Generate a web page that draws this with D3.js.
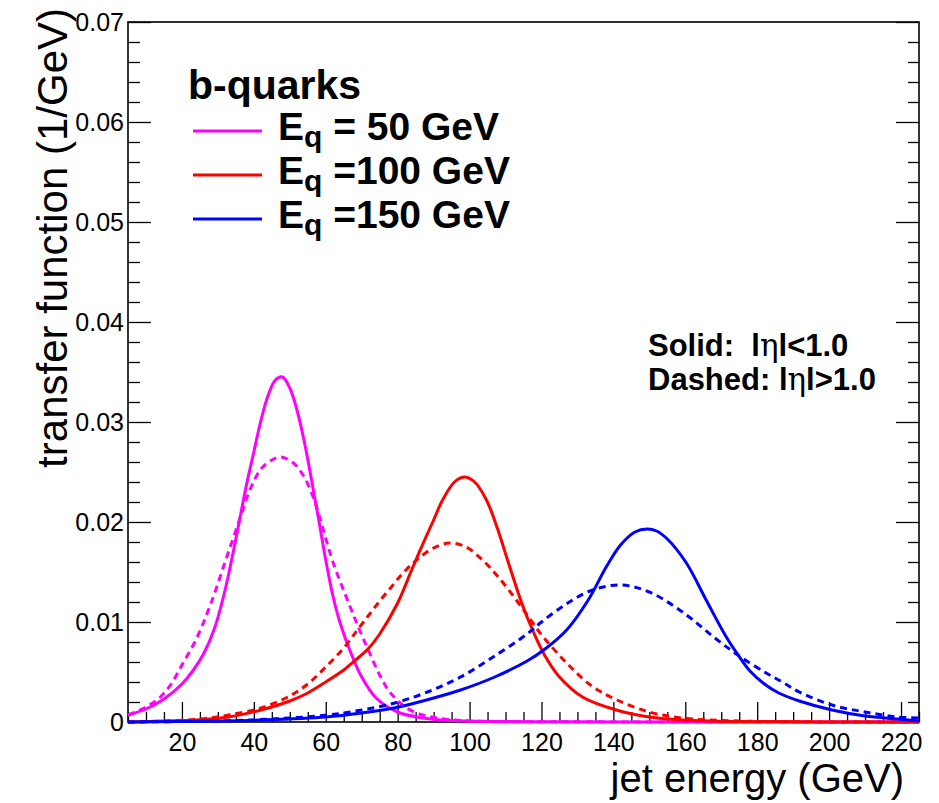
<!DOCTYPE html>
<html>
<head>
<meta charset="utf-8">
<script src="https://cdn.jsdelivr.net/npm/d3@7"></script>
<style>
  html, body { margin: 0; padding: 0; background: #fff; }
  svg { display: block; }
  text { font-family: "Liberation Sans", Arial, Helvetica, sans-serif; white-space: pre; }
</style>
</head>
<body>
<svg id="chart" width="939" height="803"></svg>
<script>
// ---------------- DATA ----------------
const xTickValues = [20, 40, 60, 80, 100, 120, 140, 160, 180, 200, 220];
const yTickValues = [0, 0.01, 0.02, 0.03, 0.04, 0.05, 0.06, 0.07];
const yTickLabels = ["0", "0.01", "0.02", "0.03", "0.04", "0.05", "0.06", "0.07"];

const legendTitle = "b-quarks";
const legendLabels = ["= 50 GeV", "=100 GeV", "=150 GeV"];
const seriesColors = ["#ff00ff", "#ff0000", "#0000ff"];

// E_q = 50 GeV, |eta|<1.0 (solid)
const m50SolidE = [5, 10, 15, 20, 23, 26, 29, 32, 35, 38, 40, 42, 44, 46, 48, 50, 52, 54, 56, 58, 60, 62, 64, 67, 70, 74, 80, 87, 92, 100, 120, 150, 225];
const m50SolidV = [0.0007, 0.0013, 0.0023, 0.0038, 0.0051, 0.0068, 0.0093, 0.0132, 0.0183, 0.0238, 0.0270, 0.0302, 0.0327, 0.0342, 0.0345, 0.0334, 0.0312, 0.0281, 0.0243, 0.0203, 0.0162, 0.0126, 0.0099, 0.0069, 0.0045, 0.0024, 0.0010, 0.0004, 0.0002, 0.0001, 0.00003, 0, 0];
// E_q = 50 GeV, |eta|>1.0 (dashed)
const m50DashE = [5, 10, 14, 17, 20, 24, 28, 32, 36, 39, 42, 45, 47.5, 51, 54, 57, 59, 62, 66.7, 69.4, 72.2, 75, 77.8, 82.5, 87, 91, 100, 120, 225];
const m50DashV = [0.0007, 0.0015, 0.0025, 0.0038, 0.0057, 0.0083, 0.0118, 0.0160, 0.0202, 0.0233, 0.0253, 0.0262, 0.0265, 0.0259, 0.0245, 0.0220, 0.0196, 0.0160, 0.0116, 0.0092, 0.0069, 0.0047, 0.0030, 0.0014, 0.0007, 0.0004, 0.0001, 0.00003, 0];

// E_q = 100 GeV, solid
const r100SolidE = [5, 15, 24, 33, 42, 50, 55, 60, 65, 68, 72, 75, 80, 84, 87, 90, 92.5, 95.8, 98.6, 101.4, 104.7, 107.8, 111, 114.7, 118, 121, 125, 131.4, 140.8, 150, 159, 175, 225];
const r100SolidV = [0, 0.0001, 0.0002, 0.0005, 0.0012, 0.0021, 0.0029, 0.0040, 0.0052, 0.0061, 0.0074, 0.0088, 0.0119, 0.0153, 0.0178, 0.0202, 0.0222, 0.0240, 0.0245, 0.0240, 0.0222, 0.0193, 0.0157, 0.0117, 0.0088, 0.0066, 0.0045, 0.0025, 0.0012, 0.0005, 0.0002, 0.00005, 0];
// E_q = 100 GeV, dashed
const r100DashE = [5, 15, 25, 33, 42, 50, 55, 60, 65, 69, 72, 75, 78, 81, 84, 87, 90, 94.4, 99, 103.6, 108, 113, 117, 120.3, 127, 134, 141, 150, 159, 175, 225];
const r100DashV = [0, 0.0001, 0.0003, 0.0007, 0.0014, 0.0026, 0.0038, 0.0055, 0.0074, 0.0093, 0.0107, 0.0121, 0.0134, 0.0147, 0.0158, 0.0167, 0.0174, 0.0179, 0.0175, 0.0162, 0.0145, 0.0122, 0.0102, 0.0086, 0.0059, 0.0036, 0.0022, 0.0010, 0.0004, 0.0001, 0];

// E_q = 150 GeV, solid
const b150SolidE = [5, 30, 42, 60, 70, 79, 88, 97.5, 107, 116, 121, 127, 133, 138, 142, 146, 149.4, 152, 155, 160.3, 165.8, 171.4, 174.5, 178, 182, 186, 191.7, 200.8, 210, 219, 225];
const b150SolidV = [0, 0.0001, 0.0002, 0.0005, 0.0009, 0.0014, 0.0022, 0.0032, 0.0045, 0.0061, 0.0073, 0.0092, 0.0122, 0.0155, 0.0177, 0.0190, 0.0193, 0.0191, 0.0183, 0.0159, 0.0122, 0.0085, 0.0068, 0.0051, 0.0038, 0.0029, 0.0021, 0.0012, 0.0006, 0.0003, 0.0001];
// E_q = 150 GeV, dashed
const b150DashE = [5, 30, 45, 60.6, 70, 79.2, 88.3, 97.5, 107, 116, 120, 126.9, 134.2, 142.2, 150, 159.2, 168.6, 175, 182.5, 187, 191.7, 200.8, 210, 219, 225];
const b150DashV = [0, 0.0001, 0.0003, 0.0007, 0.0012, 0.0019, 0.0030, 0.0045, 0.0066, 0.0088, 0.0100, 0.0118, 0.0132, 0.0137, 0.0130, 0.0110, 0.0083, 0.0066, 0.0049, 0.0040, 0.0030, 0.0017, 0.0010, 0.0005, 0.0004];

// ---------------- CHART ----------------
const svg = d3.select("#chart");
svg.append("rect").attr("width", 939).attr("height", 803).attr("fill", "#fff");

const x = d3.scaleLinear().domain([5, 225]).range([128, 919]);
const y = d3.scaleLinear().domain([0, 0.07]).range([722, 22]);

const xMinor = d3.range(5, 226, 5).filter(v => !xTickValues.includes(v));
const yMinor = d3.range(0, 0.0701, 0.002).map(v => +v.toFixed(4)).filter(v => !yTickValues.some(t => Math.abs(t - v) < 1e-9));

// bottom axis
svg.append("g").attr("transform", `translate(0,${y(0)})`)
  .call(d3.axisBottom(x).tickValues(xMinor).tickSize(-10).tickFormat(""));
const gx = svg.append("g").attr("transform", `translate(0,${y(0)})`)
  .call(d3.axisBottom(x).tickValues(xTickValues).tickSize(-20).tickPadding(11).tickFormat(d3.format("d")));
gx.selectAll("text").attr("font-size", 25).attr("fill", "#000")
  .attr("font-family", "'Liberation Sans', Arial, sans-serif");

// left axis
svg.append("g").attr("transform", `translate(${x(5)},0)`)
  .call(d3.axisLeft(y).tickValues(yMinor).tickSize(-12).tickFormat(""));
const gy = svg.append("g").attr("transform", `translate(${x(5)},0)`)
  .call(d3.axisLeft(y).tickValues(yTickValues).tickSize(-23).tickPadding(4)
    .tickFormat((d, i) => yTickLabels[i]));
gy.selectAll("text").attr("font-size", 25).attr("fill", "#000")
  .attr("font-family", "'Liberation Sans', Arial, sans-serif");

// right axis
svg.append("g").attr("transform", `translate(${x(225)},0)`)
  .call(d3.axisRight(y).tickValues(yMinor).tickSize(-11).tickFormat(""));
svg.append("g").attr("transform", `translate(${x(225)},0)`)
  .call(d3.axisRight(y).tickValues(yTickValues).tickSize(-23).tickFormat(""));

svg.selectAll(".domain").remove();
svg.selectAll(".tick line").attr("stroke", "#000").attr("stroke-width", 1.3);

// frame
svg.append("rect")
  .attr("x", x(5)).attr("y", y(0.07))
  .attr("width", x(225) - x(5)).attr("height", y(0) - y(0.07))
  .attr("fill", "none").attr("stroke", "#000").attr("stroke-width", 1.6);

// curves
const line = d3.line().x(d => x(d[0])).y(d => y(d[1])).curve(d3.curveCatmullRom.alpha(0.5));
const series = [
  { e: m50SolidE, v: m50SolidV, c: seriesColors[0], dash: null },
  { e: m50DashE,  v: m50DashV,  c: seriesColors[0], dash: "7,5" },
  { e: r100SolidE, v: r100SolidV, c: seriesColors[1], dash: null },
  { e: r100DashE,  v: r100DashV,  c: seriesColors[1], dash: "7,5" },
  { e: b150SolidE, v: b150SolidV, c: seriesColors[2], dash: null },
  { e: b150DashE,  v: b150DashV,  c: seriesColors[2], dash: "7,5" }
];
const plotG = svg.append("g");
series.forEach(s => {
  plotG.append("path")
    .datum(s.e.map((e, i) => [e, s.v[i]]))
    .attr("d", line)
    .attr("fill", "none")
    .attr("stroke", s.c)
    .attr("stroke-width", 3)
    .attr("stroke-linejoin", "round")
    .attr("stroke-dasharray", s.dash);
});

// axis titles
svg.append("text")
  .attr("x", 904).attr("y", 792)
  .attr("text-anchor", "end")
  .attr("font-size", 40)
  .text("jet energy (GeV)");

svg.append("text")
  .attr("transform", "translate(67,8) rotate(-90)")
  .attr("text-anchor", "end")
  .attr("font-size", 42)
  .text("transfer function (1/GeV)");

// legend
const lg = svg.append("g");
lg.append("text").attr("x", 188).attr("y", 99)
  .attr("font-size", 41).attr("font-weight", "bold").text(legendTitle);
legendLabels.forEach((lab, i) => {
  const yy = 131 + i * 44;
  lg.append("line").attr("x1", 193).attr("x2", 262).attr("y1", yy).attr("y2", yy)
    .attr("stroke", seriesColors[i]).attr("stroke-width", 3);
  const t = lg.append("text").attr("x", 278).attr("y", yy + 9)
    .attr("font-size", 39).attr("font-weight", "bold");
  t.append("tspan").text("E");
  t.append("tspan").attr("font-size", 30).attr("dy", 7).text("q");
  t.append("tspan").attr("dy", -7).text(" " + lab);
});

// annotation
const a1 = svg.append("text").attr("x", 648).attr("y", 356)
  .attr("font-size", 31).attr("font-weight", "bold");
a1.append("tspan").text("Solid:  l");
a1.append("tspan").attr("font-weight", "normal").attr("font-family", "'DejaVu Serif', serif").text("η");
a1.append("tspan").text("l<1.0");
const a2 = svg.append("text").attr("x", 648).attr("y", 390)
  .attr("font-size", 31).attr("font-weight", "bold");
a2.append("tspan").text("Dashed: l");
a2.append("tspan").attr("font-weight", "normal").attr("font-family", "'DejaVu Serif', serif").text("η");
a2.append("tspan").text("l>1.0");
</script>
</body>
</html>
